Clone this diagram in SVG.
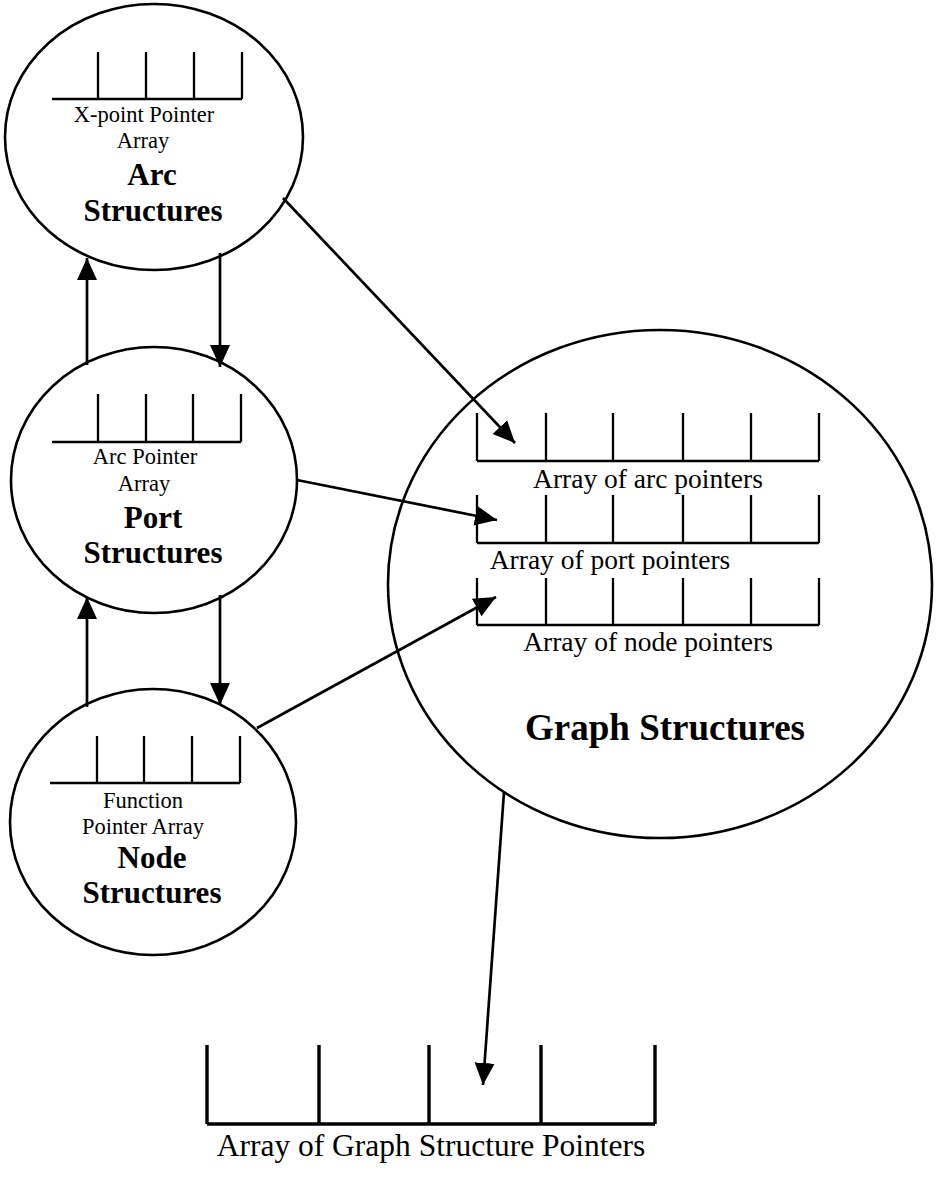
<svg xmlns="http://www.w3.org/2000/svg" width="937" height="1177" viewBox="0 0 937 1177">
  <style>
    .ring { fill: none; stroke: #000; stroke-width: 2.6; }
    .cell { fill: none; stroke: #000; stroke-width: 2.3; }
    .cell-big { fill: none; stroke: #000; stroke-width: 3.4; }
    .link { fill: none; stroke: #000; stroke-width: 2.7; }
    .small { font-family: "Liberation Serif", "Times New Roman", serif; font-size: 22.5px; fill: #000; text-anchor: middle; }
    .label { font-family: "Liberation Serif", "Times New Roman", serif; font-size: 27.5px; fill: #000; text-anchor: middle; }
    .title { font-family: "Liberation Serif", "Times New Roman", serif; font-size: 31px; font-weight: bold; fill: #000; text-anchor: middle; }
    .big-title { font-family: "Liberation Serif", "Times New Roman", serif; font-size: 37px; font-weight: bold; fill: #000; text-anchor: middle; }
    .caption { font-family: "Liberation Serif", "Times New Roman", serif; font-size: 31.5px; fill: #000; text-anchor: middle; }
  </style>
  <defs>
    <marker id="head" markerUnits="userSpaceOnUse" markerWidth="24" markerHeight="24" viewBox="0 0 24 24" refX="22" refY="12" orient="auto">
      <path d="M0,2 L22,12 L0,22 Z" fill="#000"/>
    </marker>
  </defs>
  <rect width="937" height="1177" fill="#fff"/>

  <!-- Arc structures -->
  <g id="arc-structures">
    <ellipse class="ring" cx="154" cy="137" rx="149" ry="133"/>
    <path class="cell" d="M52,99 H242 M98,52 V99 M146,52 V99 M194,52 V99 M242,52 V99"/>
    <text class="small" x="144" y="122">X-point Pointer</text>
    <text class="small" x="143" y="148">Array</text>
    <text class="title" x="152" y="185">Arc</text>
    <text class="title" x="153" y="221">Structures</text>
  </g>

  <!-- Port structures -->
  <g id="port-structures">
    <ellipse class="ring" cx="154" cy="480" rx="143" ry="133"/>
    <path class="cell" d="M52,442 H241 M98,394 V442 M146,394 V442 M193,394 V442 M241,394 V442"/>
    <text class="small" x="145" y="464">Arc Pointer</text>
    <text class="small" x="144" y="491">Array</text>
    <text class="title" x="153" y="528">Port</text>
    <text class="title" x="153" y="563">Structures</text>
  </g>

  <!-- Node structures -->
  <g id="node-structures">
    <ellipse class="ring" cx="153" cy="822" rx="143" ry="133"/>
    <path class="cell" d="M50,783 H240 M97,736 V783 M144,736 V783 M192,736 V783 M240,736 V783"/>
    <text class="small" x="143" y="808">Function</text>
    <text class="small" x="143" y="834">Pointer Array</text>
    <text class="title" x="152" y="868">Node</text>
    <text class="title" x="152" y="903">Structures</text>
  </g>

  <!-- Graph structures -->
  <g id="graph-structures">
    <ellipse class="ring" cx="660" cy="584" rx="272" ry="254"/>
    <path class="cell" d="M477,461 H819 M477,413 V461 M546,413 V461 M613,413 V461 M683,413 V461 M751,413 V461 M819,413 V461"/>
    <text class="label" x="648" y="488">Array of arc pointers</text>
    <path class="cell" d="M477,543 H819 M477,495 V543 M546,495 V543 M613,495 V543 M683,495 V543 M751,495 V543 M819,495 V543"/>
    <text class="label" x="610" y="569">Array of port pointers</text>
    <path class="cell" d="M477,625 H819 M477,578 V625 M546,578 V625 M613,578 V625 M683,578 V625 M751,578 V625 M819,578 V625"/>
    <text class="label" x="648" y="651">Array of node pointers</text>
    <text class="big-title" x="665" y="740">Graph Structures</text>
  </g>

  <!-- Array of graph structure pointers -->
  <g id="graph-pointer-array">
    <path class="cell-big" d="M207,1124 H655 M207,1045 V1124 M319,1045 V1124 M429,1045 V1124 M541,1045 V1124 M655,1045 V1124"/>
    <text class="caption" x="431" y="1156">Array of Graph Structure Pointers</text>
  </g>

  <!-- Connectors -->
  <g id="connectors">
    <line class="link" x1="283" y1="198" x2="515" y2="443" marker-end="url(#head)"/>
    <line class="link" x1="297" y1="480" x2="497" y2="520" marker-end="url(#head)"/>
    <line class="link" x1="257" y1="728" x2="496" y2="597" marker-end="url(#head)"/>
    <line class="link" x1="87" y1="365" x2="87" y2="258" marker-end="url(#head)"/>
    <line class="link" x1="220" y1="253" x2="220" y2="367" marker-end="url(#head)"/>
    <line class="link" x1="87" y1="707" x2="87" y2="597" marker-end="url(#head)"/>
    <line class="link" x1="220" y1="595" x2="220" y2="705" marker-end="url(#head)"/>
    <line class="link" x1="504" y1="792" x2="483" y2="1085" stroke-width="2" marker-end="url(#head)"/>
  </g>
</svg>
